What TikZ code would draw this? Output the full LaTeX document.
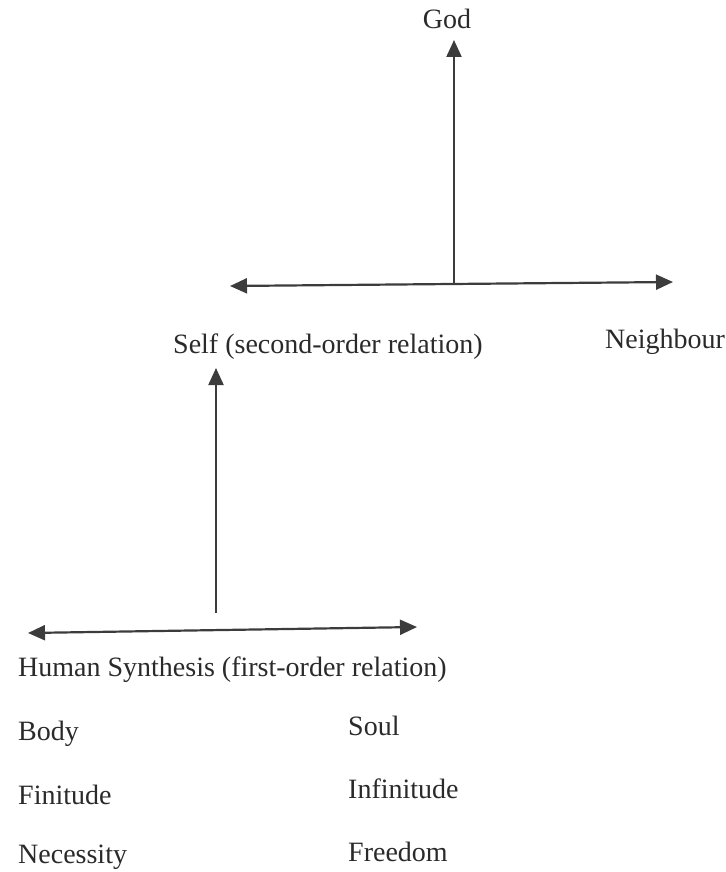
\documentclass[tikz,border=0pt]{standalone}
\usepackage{fontspec}
\setmainfont{Liberation Serif}
\usetikzlibrary{arrows.meta}
\definecolor{ink}{HTML}{2A2A2A}
\definecolor{linegray}{HTML}{3C3C3C}
\begin{document}
\begin{tikzpicture}[x=1pt,y=-1pt,
  lbl/.style={inner sep=0pt,text=ink,font=\fontsize{28}{34}\selectfont},
  conn/.style={draw=linegray,line width=2.2pt,-{Triangle[length=17pt,width=15pt]}},
  dconn/.style={draw=linegray,line width=2.2pt,{Triangle[length=17pt,width=15pt]}-{Triangle[length=17pt,width=15pt]}}]
\useasboundingbox (0,0) rectangle (725,872);
% labels
\node[lbl,anchor=base] (god) at (447,29) {God};
\node[lbl,anchor=base west] (self) at (173,353) {Self (second-order relation)};
\node[lbl,anchor=base west] (neigh) at (605,348) {Neighbour};
\node[lbl,anchor=base west] (human) at (18,676) {Human Synthesis (first-order relation)};
\node[lbl,anchor=base west] (body) at (18,740) {Body};
\node[lbl,anchor=base west] (soul) at (348,735) {Soul};
\node[lbl,anchor=base west] (fin) at (18,804) {Finitude};
\node[lbl,anchor=base west] (infin) at (348,798) {Infinitude};
\node[lbl,anchor=base west] (nec) at (18,863) {Necessity};
\node[lbl,anchor=base west] (free) at (348,861) {Freedom};
% arrow end points
\coordinate (hubtop) at (454,284);
\coordinate (godtip) at (454,40);
\coordinate (lefttip) at (230,286);
\coordinate (righttip) at (673,282);
\coordinate (selftip) at (216,368);
\coordinate (hubbot) at (216,613);
\coordinate (hleft) at (28,633);
\coordinate (hright) at (417,627);
% connectors
\draw[conn] (hubtop) -- (godtip);
\draw[dconn] (lefttip) -- (righttip);
\draw[conn] (hubbot) -- (selftip);
\draw[dconn] (hleft) -- (hright);
\end{tikzpicture}
\end{document}
